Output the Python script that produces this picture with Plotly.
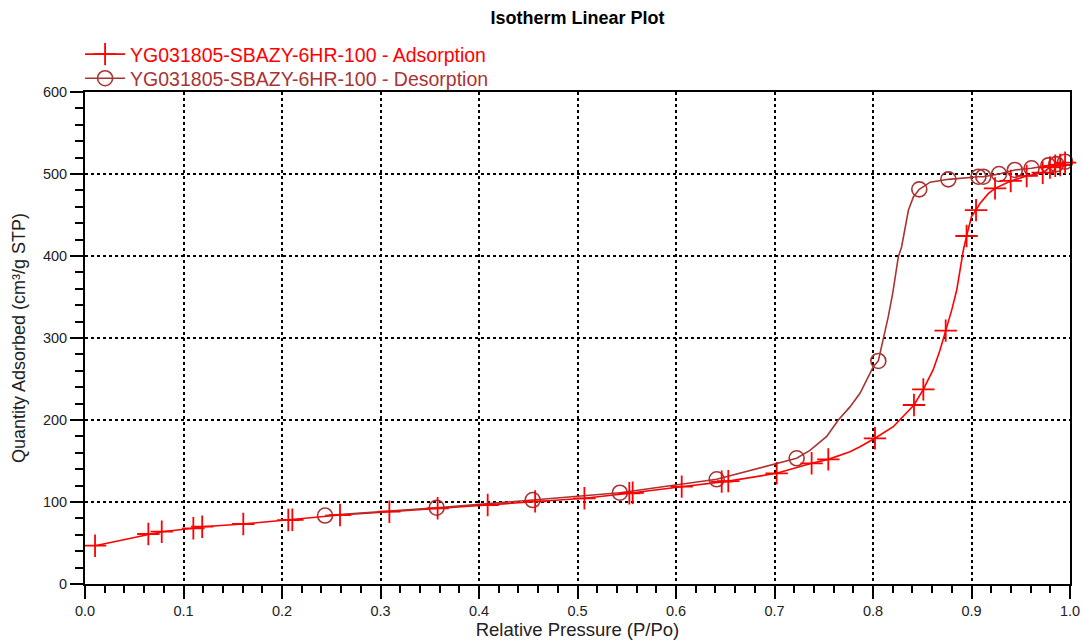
import numpy as np
import plotly.graph_objects as go

# Measured adsorption points (relative pressure P/Po, quantity cm3/g STP)
ads_p = [0.0102, 0.0643, 0.0779, 0.1100, 0.1190, 0.1607, 0.2064, 0.2105, 0.2589,
         0.3090, 0.3580, 0.4088, 0.4570, 0.5070, 0.5526, 0.5560, 0.6058, 0.6464,
         0.6531, 0.7022, 0.7377, 0.7546, 0.8020, 0.8416, 0.8511, 0.8738, 0.8950,
         0.9046, 0.9239, 0.9398, 0.9560, 0.9723, 0.9797, 0.9850, 0.9900, 0.9950]
ads_q = [46.7, 61.0, 63.8, 67.9, 69.9, 73.2, 78.0, 78.3, 84.1,
         88.2, 92.3, 96.3, 100.8, 104.5, 110.6, 111.2, 118.7, 124.8,
         125.5, 135.0, 147.2, 152.0, 177.7, 218.3, 237.4, 309.0, 424.4,
         456.0, 482.5, 491.5, 497.6, 501.6, 508.0, 510.0, 511.0, 513.8]

# Additional vertices of the continuous adsorption trace
ads_trace_p = [0.7766, 0.7868, 0.8206, 0.8307, 0.8610, 0.8680, 0.8799, 0.8850,
               0.8880, 0.8917, 0.9000, 0.9086, 0.9170]
ads_trace_q = [161.3, 167.4, 191.8, 204.0, 261.0, 285.0, 334.0, 358.5,
               383.0, 407.0, 448.0, 464.0, 476.0]

# Measured desorption points
des_p = [0.9950, 0.9860, 0.9780, 0.9610, 0.9440, 0.9280, 0.9120, 0.9070, 0.8765,
         0.8470, 0.8054, 0.7225, 0.6413, 0.5430, 0.4545, 0.3570, 0.2437]
des_q = [515.0, 512.0, 510.5, 507.0, 504.9, 500.0, 496.7, 496.7, 493.5,
         481.3, 272.0, 153.3, 127.7, 111.3, 102.4, 93.0, 83.5]

# Additional vertices of the continuous desorption trace
des_trace_p = [0.8580, 0.8410, 0.8360, 0.8335, 0.8290, 0.8257, 0.8223, 0.8200,
               0.8155, 0.8105, 0.8003, 0.7936, 0.7868, 0.7766, 0.7648, 0.7530, 0.7360]
des_trace_q = [490.0, 472.0, 456.0, 440.0, 411.0, 399.0, 375.0, 354.5,
               326.0, 297.6, 265.0, 249.0, 232.5, 216.0, 200.0, 180.0, 163.0]

x_ticks = [0.0, 0.1, 0.2, 0.3, 0.4, 0.5, 0.6, 0.7, 0.8, 0.9, 1.0]
x_tick_text = ["0.0", "0.1", "0.2", "0.3", "0.4", "0.5", "0.6", "0.7", "0.8", "0.9", "1.0"]
y_ticks = [0, 100, 200, 300, 400, 500, 600]

ads_name = "YG031805-SBAZY-6HR-100 - Adsorption"
des_name = "YG031805-SBAZY-6HR-100 - Desorption"

RED = "#FF0000"
BROWN = "#AA3333"
FONT = "Arial, Liberation Sans, sans-serif"


def merged(p1, q1, p2, q2):
    p = np.array(list(p1) + list(p2))
    q = np.array(list(q1) + list(q2))
    order = np.argsort(p)
    return p[order], q[order]


ads_line_p, ads_line_q = merged(ads_p, ads_q, ads_trace_p, ads_trace_q)
des_line_p, des_line_q = merged(des_p, des_q, des_trace_p, des_trace_q)

fig = go.Figure()

# continuous curves
fig.add_trace(go.Scatter(x=ads_line_p, y=ads_line_q, mode="lines",
                         line=dict(color=RED, width=1.6), showlegend=False,
                         hoverinfo="skip"))
fig.add_trace(go.Scatter(x=des_line_p, y=des_line_q, mode="lines",
                         line=dict(color=BROWN, width=1.6), showlegend=False,
                         hoverinfo="skip"))

# point markers
fig.add_trace(go.Scatter(x=des_p, y=des_q, mode="markers", showlegend=False,
                         cliponaxis=False,
                         marker=dict(symbol="circle-open", size=15, color=BROWN,
                                     line=dict(width=1.6, color=BROWN))))
fig.add_trace(go.Scatter(x=ads_p, y=ads_q, mode="markers", showlegend=False,
                         cliponaxis=False,
                         marker=dict(symbol="cross-thin", size=16, color=RED,
                                     line=dict(width=1.8, color=RED))))

# legend entries (one legend box per series so the row spacing can be set)
fig.add_trace(go.Scatter(x=[None], y=[None], mode="lines+markers",
                         name=f'<span style="color:{RED}">{ads_name}</span>',
                         legend="legend",
                         line=dict(color=RED, width=1.6),
                         marker=dict(symbol="cross-thin", size=16, color=RED,
                                     line=dict(width=1.8, color=RED))))
fig.add_trace(go.Scatter(x=[None], y=[None], mode="lines+markers",
                         name=f'<span style="color:{BROWN}">{des_name}</span>',
                         legend="legend2",
                         line=dict(color=BROWN, width=1.6),
                         marker=dict(symbol="circle-open", size=15, color=BROWN,
                                     line=dict(width=1.6, color=BROWN))))

axis_common = dict(
    showline=True, linecolor="black", linewidth=2, mirror=True,
    ticks="outside", tickcolor="black", tickwidth=2, ticklen=13,
    showgrid=True, gridcolor="black", gridwidth=1.5, griddash="dot",
    zeroline=False, automargin=False,
    tickfont=dict(family=FONT, size=14.5, color="#222222"),
)

fig.update_xaxes(
    range=[0, 1], tickvals=x_ticks, ticktext=x_tick_text,
    title=dict(text="Relative Pressure (P/Po)",
               font=dict(family=FONT, size=18.5, color="#222222"), standoff=6),
    minor=dict(ticks="outside", ticklen=7, tickwidth=1.5, tickcolor="black",
               dtick=0.02, showgrid=False),
    **axis_common,
)
fig.update_yaxes(
    range=[0, 600], tickvals=y_ticks,
    title=dict(text="Quantity Adsorbed (cm³/g STP)",
               font=dict(family=FONT, size=18, color="#222222"), standoff=13),
    minor=dict(ticks="outside", ticklen=8, tickwidth=1.5, tickcolor="black",
               dtick=20, showgrid=False),
    **axis_common,
)

legend_common = dict(x=-0.005, xanchor="left", yanchor="top",
                     bgcolor="rgba(0,0,0,0)", itemwidth=40,
                     font=dict(family=FONT, size=19.5))

fig.update_layout(
    width=1083, height=640,
    margin=dict(l=85, r=13, t=92, b=56),
    paper_bgcolor="white", plot_bgcolor="white",
    title=dict(text="<b>Isotherm Linear Plot</b>", x=0.5, xref="paper",
               y=1 - 18 / 640, yanchor="middle",
               font=dict(family=FONT, size=18, color="black")),
    legend=dict(y=1.116, **legend_common),
    legend2=dict(y=1.067, **legend_common),
    showlegend=True,
)

fig.write_html("out.html")
